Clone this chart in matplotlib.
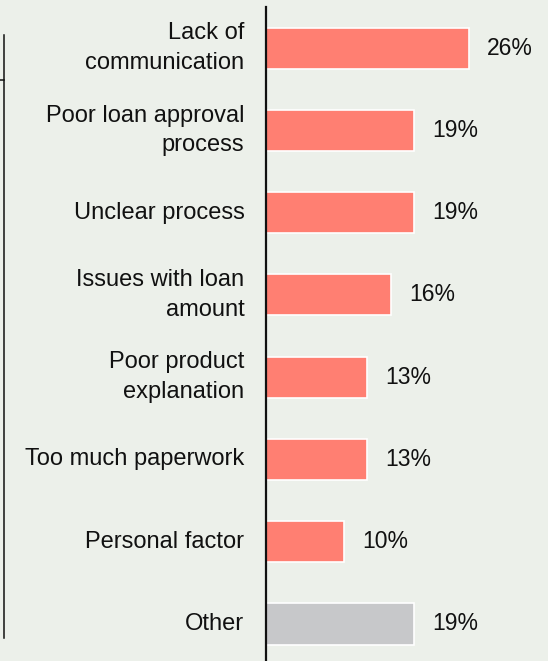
import matplotlib
matplotlib.use('Agg')
from matplotlib import pyplot as plt
from matplotlib.lines import Line2D

categories = ['Lack of\ncommunication', 'Poor loan approval\nprocess', 'Unclear process',
              'Issues with loan\namount', 'Poor product\nexplanation', 'Too much paperwork',
              'Personal factor', 'Other']
values = [26, 19, 19, 16, 13, 13, 10, 19]
value_labels = ['26%', '19%', '19%', '16%', '13%', '13%', '10%', '19%']
bar_colors = ['#FF7F72'] * 7 + ['#C7C8CA']

bg = '#ECF0EA'
plt.rcParams['font.family'] = ['Liberation Sans', 'DejaVu Sans']

fig = plt.figure(figsize=(5.48, 6.61), dpi=100, facecolor=bg)
ax = fig.add_axes([266 / 548, 0, 1 - 266 / 548, 1 - 7 / 661])
ax.set_facecolor(bg)

ypos = list(range(len(values)))
ax.barh(ypos, values, height=0.5, color=bar_colors, edgecolor='white', linewidth=1.2)
for y, v, t in zip(ypos, values, value_labels):
    ax.text(v + 2.3, y, t, va='center', ha='left', fontsize=16.5, color='#111111')

ax.set_ylim(7.45, -0.5)
ax.set_xlim(0, 36.15)
ax.set_yticks(ypos)
ax.set_yticklabels(categories, fontsize=17, color='#111111', linespacing=1.45)
ax.tick_params(axis='y', length=0, pad=15.5)
for lab in ax.get_yticklabels():
    lab.set_horizontalalignment('right')
    lab.set_verticalalignment('center')
ax.set_xticks([])
for s in ['top', 'right', 'bottom']:
    ax.spines[s].set_visible(False)
ax.spines['left'].set_linewidth(1.6)
ax.spines['left'].set_color('#111111')

# stray bracket line on the left edge
fig.add_artist(Line2D([4 / 548, 4 / 548], [1 - 35 / 661, 1 - 638 / 661],
                      transform=fig.transFigure, color='#111111', linewidth=1.1))
fig.add_artist(Line2D([0, 4 / 548], [1 - 80 / 661, 1 - 80 / 661],
                      transform=fig.transFigure, color='#111111', linewidth=1.1))

fig.savefig('out.png', dpi=100, facecolor=bg)
